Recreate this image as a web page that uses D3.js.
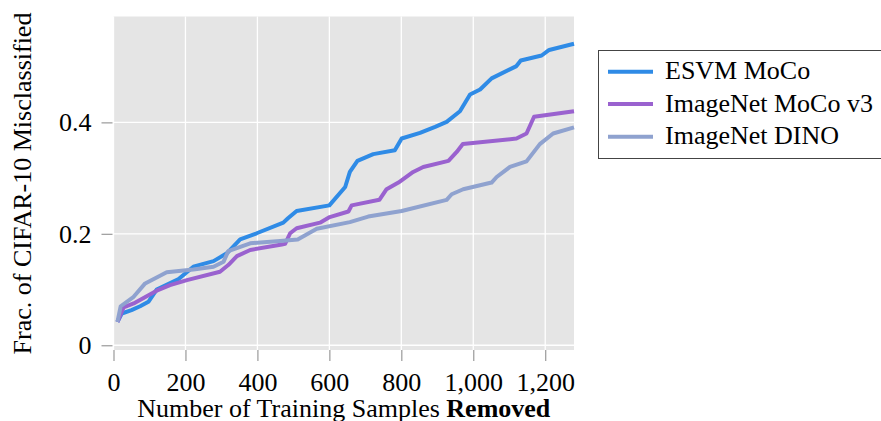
<!DOCTYPE html>
<html>
<head>
<meta charset="utf-8">
<script src="https://cdn.jsdelivr.net/npm/d3@7"></script>
<style>
  html, body { margin: 0; padding: 0; background: #fff; }
  svg { display: block; }
  text { font-family: "Liberation Serif", "Times New Roman", serif; fill: #000; }
</style>
</head>
<body>
<svg id="chart" width="881" height="421"></svg>
<script>
// ---- Data ----
const seriesNames = ["ESVM MoCo", "ImageNet MoCo v3", "ImageNet DINO"];
const seriesColors = ["#2f8be6", "#9a62cf", "#8fa2cf"];

const esvmMoco = [
  [11,0.042],[23,0.057],[50,0.063],[74,0.070],[97,0.078],[120,0.100],[181,0.119],
  [222,0.141],[278,0.151],[315,0.165],[352,0.190],[398,0.201],[472,0.220],[485,0.228],
  [509,0.241],[600,0.251],[644,0.284],[657,0.311],[678,0.331],[722,0.343],[782,0.350],
  [801,0.371],[852,0.381],[894,0.392],[926,0.401],[963,0.420],[991,0.450],[1019,0.459],
  [1051,0.479],[1120,0.501],[1132,0.511],[1190,0.520],[1211,0.530],[1280,0.541]
];
const imagenetMocoV3 = [
  [11,0.042],[28,0.068],[56,0.075],[120,0.098],[157,0.108],[204,0.117],[296,0.132],
  [319,0.144],[343,0.160],[380,0.171],[468,0.181],[477,0.182],[491,0.201],[509,0.210],
  [574,0.220],[601,0.230],[653,0.240],[662,0.251],[739,0.261],[759,0.280],[792,0.292],
  [833,0.311],[861,0.320],[931,0.331],[954,0.347],[971,0.361],[1120,0.371],[1148,0.380],
  [1169,0.410],[1280,0.420]
];
const imagenetDino = [
  [11,0.042],[20,0.070],[56,0.087],[88,0.111],[148,0.131],[222,0.136],[278,0.141],
  [306,0.150],[319,0.169],[380,0.183],[463,0.187],[512,0.190],[565,0.209],[657,0.221],
  [708,0.231],[801,0.241],[926,0.261],[940,0.271],[972,0.280],[1051,0.292],[1065,0.302],
  [1102,0.320],[1148,0.330],[1185,0.361],[1222,0.380],[1280,0.391]
];
const allSeries = [esvmMoco, imagenetMocoV3, imagenetDino];

const xTicks = [0, 200, 400, 600, 800, 1000, 1200];
const yTicks = [0, 0.2, 0.4];
const xLabelText = "Number of Training Samples ";
const xLabelBold = "Removed";
const yLabelText = "Frac. of CIFAR-10 Misclassified";

// ---- Layout ----
const svg = d3.select("#chart");
const plot = { left: 113.5, right: 574, top: 16.5, bottom: 350 };

const x = d3.scaleLinear().domain([0, 1280]).range([plot.left, plot.right]);
const y = d3.scaleLinear().domain([-0.0085, 0.59]).range([plot.bottom, plot.top]);

// background
svg.append("rect")
  .attr("x", plot.left).attr("y", plot.top)
  .attr("width", plot.right - plot.left).attr("height", plot.bottom - plot.top)
  .attr("fill", "#e5e5e5");

// grid
const grid = svg.append("g");
grid.selectAll("line.gx").data(xTicks).join("line")
  .attr("x1", d => x(d)).attr("x2", d => x(d))
  .attr("y1", plot.top).attr("y2", plot.bottom)
  .attr("stroke", "#fff").attr("stroke-width", 1.3);
grid.selectAll("line.gy").data(yTicks).join("line")
  .attr("y1", d => y(d)).attr("y2", d => y(d))
  .attr("x1", plot.left).attr("x2", plot.right)
  .attr("stroke", "#fff").attr("stroke-width", 1.3);

// axes
const xAxis = d3.axisBottom(x).tickValues(xTicks)
  .tickSize(11).tickPadding(12)
  .tickFormat(d => d3.format(",")(d));
const gx = svg.append("g").attr("transform", `translate(0,${plot.bottom})`).call(xAxis);
gx.select(".domain").remove();
gx.selectAll(".tick line").attr("stroke", "#9a9a9a").attr("stroke-width", 1.2);
gx.selectAll(".tick text")
  .attr("font-family", "Liberation Serif, serif").attr("font-size", 26).attr("fill", "#000");

const yAxis = d3.axisLeft(y).tickValues(yTicks)
  .tickSize(11).tickPadding(10)
  .tickFormat(d => d === 0 ? "0" : d3.format(".1f")(d));
const gy = svg.append("g").attr("transform", `translate(${plot.left - 1},0)`).call(yAxis);
gy.select(".domain").remove();
gy.selectAll(".tick line").attr("stroke", "#9a9a9a").attr("stroke-width", 1.2);
gy.selectAll(".tick text")
  .attr("font-family", "Liberation Serif, serif").attr("font-size", 26).attr("fill", "#000");

// lines
const line = d3.line().x(d => x(d[0])).y(d => y(d[1]));
svg.append("g").selectAll("path").data(allSeries).join("path")
  .attr("d", d => line(d))
  .attr("fill", "none")
  .attr("stroke", (d, i) => seriesColors[i])
  .attr("stroke-width", 4)
  .attr("stroke-linejoin", "round");

// x label
const xl = svg.append("text")
  .attr("x", (plot.left + plot.right) / 2 + 0).attr("y", 417)
  .attr("text-anchor", "middle").attr("font-size", 26);
xl.append("tspan").text(xLabelText);
xl.append("tspan").attr("font-weight", "bold").text(xLabelBold);

// y label
svg.append("text")
  .attr("transform", `translate(31,${183.5}) rotate(-90)`)
  .attr("text-anchor", "middle").attr("font-size", 26)
  .text(yLabelText);

// legend
const legend = svg.append("g");
legend.append("rect")
  .attr("x", 598.5).attr("y", 50.5).attr("width", 290).attr("height", 108)
  .attr("fill", "#fff").attr("stroke", "#444").attr("stroke-width", 1);
const legY = [71.7, 104, 136.7];
seriesNames.forEach((name, i) => {
  legend.append("line")
    .attr("x1", 608).attr("x2", 653).attr("y1", legY[i]).attr("y2", legY[i])
    .attr("stroke", seriesColors[i]).attr("stroke-width", 4);
  legend.append("text")
    .attr("x", 665).attr("y", legY[i] + 7.5)
    .attr("font-size", 26).text(name);
});
</script>
</body>
</html>
